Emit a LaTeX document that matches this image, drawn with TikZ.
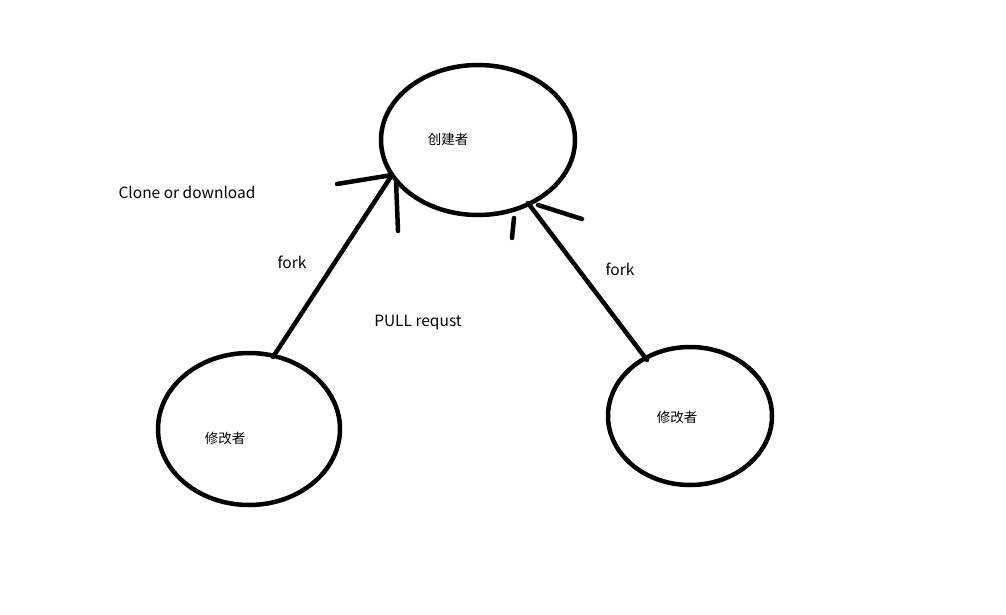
\documentclass[tikz,border=0pt]{standalone}
\usepackage{fontspec}
\setmainfont{Noto Sans CJK SC}
\begin{document}
\begin{tikzpicture}[x=1pt,y=-1pt,
  stroke/.style={line width=4.5pt,line cap=round,line join=round,black},
  lbl/.style={font=\fontsize{15.5}{17}\selectfont,inner sep=0pt},
  cjk/.style={font=\fontsize{13.5}{15}\selectfont,inner sep=0pt}]
\useasboundingbox[fill=white] (0,0) rectangle (1006,615);
% ellipses
\draw[stroke] (478,140) ellipse [x radius=97, y radius=75];
\draw[stroke] (249,429) ellipse [x radius=91, y radius=76];
\draw[stroke] (690,416) ellipse [x radius=82, y radius=69];
% named points
\coordinate (tipL) at (392,175);
\coordinate (tipR) at (528,203);
\coordinate (startL) at (273,357);
\coordinate (startR) at (647,360);
\coordinate (hL1) at (337,184);
\coordinate (hL2a) at (396,181);
\coordinate (hL2b) at (398,231);
\coordinate (hR1a) at (538,205);
\coordinate (hR1b) at (582,219);
\coordinate (hR2a) at (514,218);
\coordinate (hR2b) at (512,238);
% connectors
\draw[stroke] (startL) -- (tipL) -- (hL1);
\draw[stroke] (hL2a) -- (hL2b);
\draw[stroke] (startR) -- (tipR);
\draw[stroke] (hR1a) -- (hR1b);
\draw[stroke] (hR2a) -- (hR2b);
% texts
\node[cjk] (c) at (448,139) {创建者};
\node[cjk] (m1) at (225,438) {修改者};
\node[cjk] (m2) at (677,417) {修改者};
\node[lbl] (clone) at (187,192) {Clone or download};
\node[lbl] (f1) at (292,262) {fork};
\node[lbl] (f2) at (620,269) {fork};
\node[lbl] (pr) at (418,323) {PULL requst};
\end{tikzpicture}
\end{document}
